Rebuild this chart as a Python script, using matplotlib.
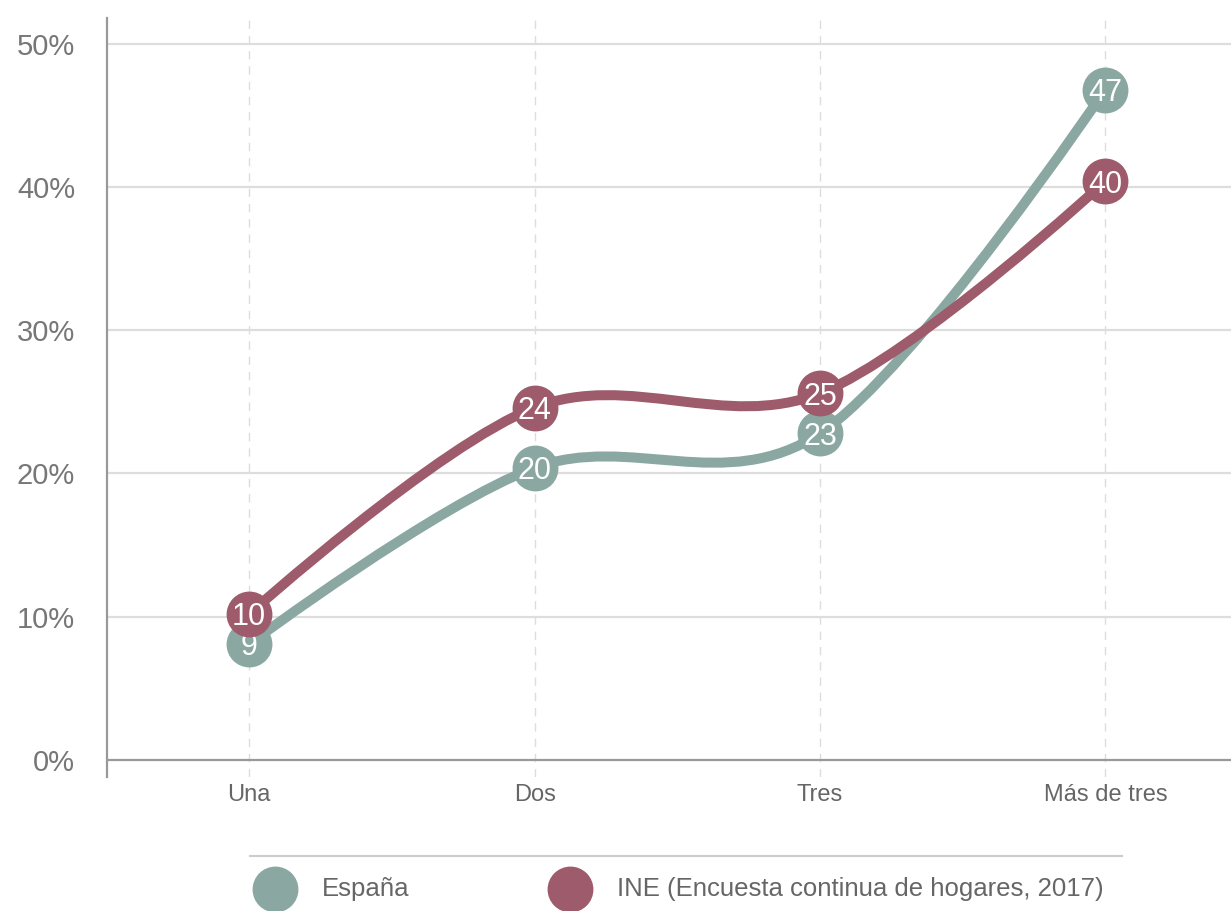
import matplotlib
matplotlib.use("Agg")
import numpy as np
import matplotlib.pyplot as plt
from matplotlib.path import Path
from matplotlib.patches import PathPatch
from matplotlib.lines import Line2D

plt.rcParams['font.family'] = ['Liberation Sans', 'DejaVu Sans']

# datos
categories = ["Una", "Dos", "Tres", "Más de tres"]
espana = [8.1, 20.4, 22.8, 46.8]
espana_labels = ["9", "20", "23", "47"]
ine = [10.2, 24.6, 25.6, 40.4]
ine_labels = ["10", "24", "25", "40"]
series_names = ["España", "INE (Encuesta continua de hogares, 2017)"]
colors = ["#8AA7A1", "#9D5B6C"]
yticks = [0, 10, 20, 30, 40, 50]


def cardinal_path(xs, ys, k=1 / 6):
    # curva cardinal (como d3.curveCardinal): extremos sin tangente
    pts = np.column_stack([xs, ys]).astype(float)
    n = len(pts)
    verts = [pts[0]]
    codes = [Path.MOVETO]
    for i in range(n - 1):
        p_prev = pts[i - 1] if i > 0 else pts[i + 1]
        p_next = pts[i + 2] if i + 2 < n else pts[i]
        c1 = pts[i] + k * (pts[i + 1] - p_prev) if i > 0 else pts[i]
        c2 = pts[i + 1] - k * (p_next - pts[i]) if i + 2 < n else pts[i + 1]
        verts += [c1, c2, pts[i + 1]]
        codes += [Path.CURVE4] * 3
    return Path(np.array(verts), codes)


fig = plt.figure(figsize=(12.31, 9.11), dpi=100)
ax = fig.add_axes([107 / 1231, 1 - 777 / 911, (1231 - 107) / 1231, (777 - 18) / 911])
ax.set_xlim(-0.498, 3.44)
ax.set_ylim(-1.19, 51.8)

x = np.arange(len(categories))

for s in ["top", "right", "bottom"]:
    ax.spines[s].set_visible(False)
ax.spines["left"].set_color("#999999")
ax.spines["left"].set_linewidth(1.6)

for yv in yticks[1:]:
    ax.axhline(yv, color="#dddddd", lw=1.6, zorder=0)
ax.axhline(0, color="#999999", lw=1.6, zorder=1)
for xv in x:
    ax.axvline(xv, color="#dddddd", lw=1, ls=(0, (6, 5)), zorder=0)

ax.set_yticks(yticks)
ax.set_yticklabels(["%d%%" % v for v in yticks], fontsize=21, color="#777777")
ax.set_xticks(x)
ax.set_xticklabels(categories, fontsize=17, color="#666666")
ax.tick_params(axis="y", length=0, pad=23)
ax.tick_params(axis="x", length=0, pad=5)

for vals, labels, col, z in [(espana, espana_labels, colors[0], 3), (ine, ine_labels, colors[1], 5)]:
    path = cardinal_path(x, vals)
    ax.add_patch(PathPatch(path, facecolor="none", edgecolor=col, lw=7.2,
                           capstyle="round", joinstyle="round", zorder=z))
    ax.plot(x, vals, "o", ms=32, color=col, zorder=z + 1)
    for xi, v, lab in zip(x, vals, labels):
        ax.text(xi, v, lab, color="white", fontsize=22, ha="center", va="center_baseline",
                zorder=z + 1)

# leyenda
fig.add_artist(Line2D([250 / 1231, 1122 / 1231], [1 - 856 / 911, 1 - 856 / 911],
                      color="#cccccc", lw=1.5))
leg_x = [275, 570]
for lx, name, col in zip(leg_x, series_names, colors):
    fig.add_artist(Line2D([lx / 1231], [1 - 889 / 911], marker="o", ms=32,
                          color=col, lw=0))
    fig.text((lx + 47) / 1231, 1 - 889 / 911, name, fontsize=18.5, color="#666666",
             ha="left", va="center")

fig.savefig("out.png", dpi=100)
